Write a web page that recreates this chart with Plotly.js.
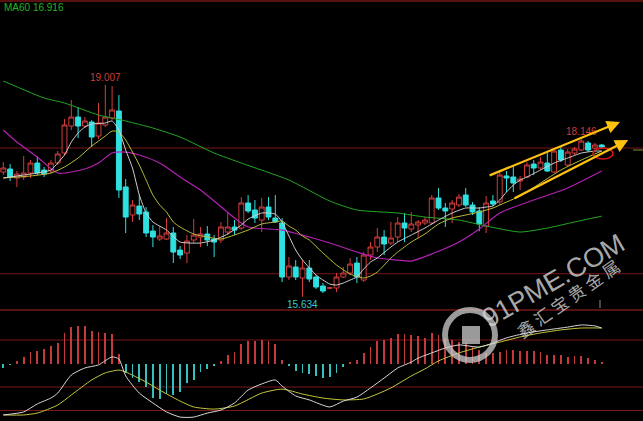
<!DOCTYPE html>
<html><head><meta charset="utf-8">
<script src="https://cdn.plot.ly/plotly-3.0.1.min.js"></script>
<style>html,body{margin:0;padding:0;background:#000;}#chart{width:643px;height:421px;}</style>
</head><body><div id="chart"></div>
<script>
// ---- candles (index 0..88) ----
const openP  = [17.618,17.666,17.523,17.539,17.602,17.761,17.650,17.634,17.761,17.920,18.350,18.493,18.350,18.414,18.191,18.366,18.477,18.589,17.380,16.934,17.077,16.982,16.679,16.552,16.552,16.648,16.377,16.329,16.536,16.584,16.632,16.552,16.536,16.664,16.743,16.727,17.125,17.014,16.854,17.061,16.886,16.807,15.948,16.107,15.932,16.091,15.948,15.804,15.770,15.773,15.948,16.011,16.170,15.900,16.298,16.425,16.584,16.489,16.584,16.807,16.711,16.775,16.807,16.807,17.205,17.045,17.030,17.093,17.252,17.093,16.998,16.759,17.157,17.141,17.555,17.539,17.475,17.539,17.745,17.682,17.761,17.618,17.968,17.730,17.920,17.968,18.080,18.000,18.048];
const highP  = [17.777,17.745,17.634,17.873,17.809,17.873,17.698,17.809,17.952,18.461,18.764,18.652,18.493,18.445,18.716,19.007,18.986,18.843,17.507,17.173,17.252,17.061,16.775,16.759,16.886,16.743,16.441,16.616,16.870,16.743,16.759,16.616,16.823,16.966,16.854,17.220,17.252,17.173,17.205,17.220,17.252,16.886,16.266,16.218,16.218,16.218,15.979,15.852,15.789,16.011,16.107,16.250,16.266,16.345,16.504,16.727,16.695,16.823,16.902,16.966,16.982,16.854,16.902,17.252,17.364,17.125,17.173,17.268,17.364,17.141,17.061,17.236,17.252,17.618,17.634,17.714,17.555,17.777,17.809,17.857,17.920,18.000,18.016,17.984,18.016,18.146,18.111,18.080,18.064];
const lowP   = [17.570,17.475,17.380,17.491,17.523,17.570,17.539,17.586,17.730,17.889,18.286,18.159,18.318,18.016,18.143,18.334,18.445,17.205,16.648,16.823,16.854,16.584,16.425,16.520,16.536,16.170,16.234,16.170,16.489,16.425,16.441,16.266,16.489,16.616,16.616,16.695,16.966,16.807,16.664,16.854,16.807,15.868,15.900,15.900,15.634,15.868,15.757,15.693,15.757,15.709,15.932,15.979,15.852,15.868,16.218,16.345,16.298,16.457,16.504,16.504,16.664,16.568,16.775,16.775,17.014,16.743,16.807,17.061,17.061,16.934,16.679,16.648,17.077,17.093,17.300,17.300,17.332,17.523,17.570,17.650,17.618,17.602,17.777,17.698,17.889,17.952,17.936,17.968,17.984];
const closeP = [17.682,17.539,17.586,17.602,17.761,17.602,17.586,17.761,17.905,18.366,18.493,18.350,18.430,18.175,18.398,18.493,18.605,17.332,16.902,17.093,16.950,16.648,16.584,16.600,16.648,16.345,16.298,16.520,16.616,16.632,16.536,16.504,16.743,16.743,16.695,17.125,16.998,16.886,17.061,16.902,16.823,15.948,16.123,15.948,16.091,15.916,15.789,15.725,15.775,15.948,16.011,16.154,15.948,16.298,16.425,16.584,16.473,16.568,16.807,16.727,16.791,16.823,16.854,17.205,17.045,16.998,17.125,17.220,17.093,16.982,16.791,17.125,17.109,17.570,17.523,17.443,17.507,17.730,17.682,17.777,17.634,17.952,17.809,17.936,17.984,18.111,17.968,18.048,18.016];

// ---- moving averages (index, price) ----
const ma5Idx = [0,3,5,7,8,9,10,11,12,13,15,16,17,18,19,20,21,22,24,26,29,31,33,35,36,38,40,41,42,43,44,46,47,48,49,50,51,52,53,54,55,57,58,60,62,64,66,68,70,71,72,73,74,75,76,77,79,81,83,85,87,88];
const ma5Val = [17.523,17.570,17.602,17.650,17.761,17.889,18.095,18.239,18.334,18.382,18.398,18.430,18.286,17.968,17.682,17.252,16.966,16.823,16.695,16.504,16.489,16.536,16.632,16.775,16.870,16.966,16.950,16.823,16.600,16.377,16.218,15.979,15.900,15.836,15.820,15.852,15.900,15.948,16.075,16.186,16.250,16.425,16.504,16.616,16.727,16.854,16.966,17.045,17.045,17.061,17.077,17.173,17.300,17.411,17.491,17.539,17.650,17.761,17.841,17.920,17.952,17.952];
const ma10Idx = [0,4,7,9,11,13,14,15,16,17,18,19,20,21,22,23,24,25,26,28,30,32,34,36,38,40,41,42,43,44,45,47,49,51,53,54,55,57,58,60,62,64,66,68,70,72,74,76,79,82,85,88];
const ma10Val = [17.523,17.555,17.602,17.698,17.841,18.032,18.111,18.191,18.270,18.255,18.127,17.936,17.730,17.491,17.252,17.093,16.982,16.823,16.743,16.632,16.584,16.552,16.616,16.695,16.791,16.823,16.839,16.759,16.695,16.600,16.536,16.330,16.139,15.995,15.932,15.964,16.027,16.250,16.345,16.504,16.632,16.791,16.886,16.934,16.982,17.045,17.141,17.236,17.443,17.650,17.809,17.952];
const ma20Idx = [0,2,5,8,12,14,16,18,20,23,26,29,31,34,36,41,45,48,52,55,58,60,63,67,70,73,78,83,88];
const ma20Val = [18.286,18.095,17.857,17.602,17.666,17.761,17.920,17.936,17.889,17.761,17.539,17.332,17.157,16.886,16.743,16.695,16.584,16.489,16.345,16.250,16.218,16.202,16.314,16.504,16.711,16.966,17.173,17.364,17.634];
const ma60Idx = [0,6,9,14,18,22,26,31,35,42,48,52,58,62,67,71,76,80,84,88];
const ma60Val = [19.066,18.796,18.716,18.525,18.430,18.318,18.175,17.920,17.761,17.491,17.157,17.014,16.966,16.902,16.854,16.759,16.664,16.727,16.823,16.916];

// ---- MACD pane ----
const macdHist = [-0.019,-0.006,0.011,0.028,0.049,0.053,0.062,0.074,0.087,0.130,0.155,0.160,0.160,0.138,0.134,0.130,0.126,0.040,-0.040,-0.062,-0.079,-0.100,-0.147,-0.151,-0.130,-0.134,-0.121,-0.083,-0.070,-0.036,-0.023,-0.009,0.011,0.036,0.049,0.083,0.096,0.096,0.100,0.096,0.083,0.015,-0.011,-0.032,-0.040,-0.043,-0.053,-0.062,-0.057,-0.040,-0.015,0.006,0.015,0.045,0.070,0.096,0.100,0.109,0.126,0.126,0.121,0.117,0.109,0.130,0.121,0.109,0.100,0.091,0.087,0.070,0.057,0.045,0.045,0.049,0.057,0.057,0.053,0.053,0.053,0.049,0.036,0.036,0.036,0.028,0.032,0.032,0.023,0.015,0.006];
const difIdx = [0,3,5,7,8,10,12,14,16,17,18,20,22,24,26,28,30,32,34,36,38,40,41,43,45,48,50,52,54,56,58,60,61,63,65,67,70,72,74,77,80,83,85,87,88];
const difVal = [-0.219,-0.206,-0.172,-0.147,-0.126,-0.049,-0.019,-0.006,0.028,0.019,-0.053,-0.126,-0.168,-0.206,-0.228,-0.228,-0.211,-0.198,-0.168,-0.113,-0.087,-0.070,-0.096,-0.138,-0.155,-0.185,-0.160,-0.143,-0.104,-0.062,-0.019,0.006,0.023,0.045,0.066,0.079,0.070,0.087,0.109,0.130,0.143,0.155,0.164,0.160,0.151];
const deaIdx = [0,3,5,8,10,13,15,17,18,21,23,26,28,31,34,38,41,44,47,50,53,55,57,60,62,64,67,70,73,76,79,82,85,88];
const deaVal = [-0.219,-0.219,-0.211,-0.177,-0.134,-0.070,-0.040,-0.028,-0.036,-0.079,-0.113,-0.160,-0.185,-0.194,-0.181,-0.126,-0.109,-0.130,-0.147,-0.155,-0.151,-0.130,-0.104,-0.053,-0.023,0.011,0.045,0.070,0.091,0.113,0.130,0.143,0.151,0.151];

// ---- labels ----
const maLabel = "MA60 16.916";
const hiLabel = "19.007", loLabel = "15.634", recentLabel = "18.146";
const wmText = "91PME.COM", wmCn = "鑫 汇 宝 贵 金 属";

const idx = openP.map((_, i) => i);
const W = 643, H = 421;
const px = x => x / W, py = y => 1 - y / H;
const RED = '#d23c3c', CYAN = '#2fe0e0', GRID = '#7a1616';

const traces = [
  {type:'candlestick', x: idx, open: openP, high: highP, low: lowP, close: closeP,
   increasing:{line:{color:RED, width:1}, fillcolor:'#000'},
   decreasing:{line:{color:CYAN, width:1}, fillcolor:CYAN},
   whiskerwidth:0, hoverinfo:'skip', xaxis:'x', yaxis:'y'},
  {type:'scatter', mode:'lines', x: ma60Idx, y: ma60Val, line:{color:'#22a822', width:1, shape:'spline', smoothing:0.6}, hoverinfo:'skip'},
  {type:'scatter', mode:'lines', x: ma20Idx, y: ma20Val, line:{color:'#b520b5', width:1.2, shape:'spline', smoothing:0.6}, hoverinfo:'skip'},
  {type:'scatter', mode:'lines', x: ma10Idx, y: ma10Val, line:{color:'#bcbc3a', width:1, shape:'spline', smoothing:0.6}, hoverinfo:'skip'},
  {type:'scatter', mode:'lines', x: ma5Idx, y: ma5Val, line:{color:'#d0d0d0', width:1, shape:'spline', smoothing:0.5}, hoverinfo:'skip'},
  {type:'bar', x: idx, y: macdHist, width:0.25, marker:{color: macdHist.map(v => v >= 0 ? '#c43a3a' : '#35c0c0')}, xaxis:'x', yaxis:'y2', hoverinfo:'skip'},
  {type:'scatter', mode:'lines', x: deaIdx, y: deaVal, line:{color:'#c8c83c', width:1, shape:'spline', smoothing:0.6}, xaxis:'x', yaxis:'y2', hoverinfo:'skip'},
  {type:'scatter', mode:'lines', x: difIdx, y: difVal, line:{color:'#d8d8d8', width:1, shape:'spline', smoothing:0.6}, xaxis:'x', yaxis:'y2', hoverinfo:'skip'}
];

const hline = (yref, y, color) => ({type:'line', xref:'paper', yref: yref, x0:0, x1:1, y0:y, y1:y, line:{color: color || GRID, width:1}, layer:'below'});
const shapes = [
  {type:'line', xref:'paper', yref:'paper', x0:0, x1:1, y0:py(1), y1:py(1), line:{color:GRID, width:1.5}},
  hline('y', 18), hline('y', 16),
  {type:'line', xref:'paper', yref:'paper', x0:0, x1:1, y0:py(310), y1:py(310), line:{color:GRID, width:1.5}},
  hline('y2', 0.1), hline('y2', -0.1), hline('y2', -0.2),
  {type:'circle', xref:'paper', yref:'paper', x0:px(593), x1:px(613), y0:py(148), y1:py(159), line:{color:'#e01414', width:1.5}},
  {type:'line', xref:'paper', yref:'paper', x0:px(633), x1:px(643), y0:py(150), y1:py(150), line:{color:'#8a8a3a', width:1}},
  {type:'line', xref:'paper', yref:'paper', x0:px(600), x1:px(600), y0:py(300), y1:py(308), line:{color:'#909090', width:1}},
  {type:'circle', xref:'paper', yref:'paper', x0:px(445), x1:px(495), y0:py(310), y1:py(360), line:{color:'rgba(205,205,205,0.75)', width:6}, layer:'above'},
  {type:'rect', xref:'paper', yref:'paper', x0:px(462), x1:px(480), y0:py(326), y1:py(344), fillcolor:'rgba(205,205,205,0.75)', line:{width:0}, layer:'above'}
];

const annotations = [
  {xref:'paper', yref:'paper', x:px(2), y:py(0), xanchor:'left', yanchor:'top', text: maLabel, showarrow:false, font:{family:'Liberation Sans, Arial', size:10, color:'#20b820'}},
  {x:15, y:19.007, xref:'x', yref:'y', yanchor:'bottom', text: hiLabel, showarrow:false, font:{family:'Liberation Sans, Arial', size:10, color:'#cc3c3c'}},
  {x:44, y:15.634, xref:'x', yref:'y', yanchor:'top', text: loLabel, showarrow:false, font:{family:'Liberation Sans, Arial', size:10, color:'#3cc8c8'}},
  {x:85, y:18.146, xref:'x', yref:'y', yanchor:'bottom', text: recentLabel, showarrow:false, font:{family:'Liberation Sans, Arial', size:10, color:'#cc3c3c'}},
  {x:90.7, y:18.414, ax:71.3, ay:17.555, xref:'x', yref:'y', axref:'x', ayref:'y', text:'', showarrow:true, arrowhead:2, arrowsize:1.2, arrowwidth:2.2, arrowcolor:'#ffc20e'},
  {x:91.9, y:18.127, ax:74.96, ay:17.189, xref:'x', yref:'y', axref:'x', ayref:'y', text:'', showarrow:true, arrowhead:2, arrowsize:1.2, arrowwidth:2.2, arrowcolor:'#ffc20e'},
  {xref:'paper', yref:'paper', x:px(553), y:py(281), xanchor:'center', yanchor:'middle', text: wmText, textangle:-30, showarrow:false, font:{family:'Liberation Sans, Arial', size:27, color:'rgba(215,215,215,0.8)'}},
  {xref:'paper', yref:'paper', x:px(567), y:py(298), xanchor:'center', yanchor:'middle', text: wmCn, textangle:-35, showarrow:false, font:{family:'Noto Sans CJK SC', size:17, color:'rgba(215,215,215,0.8)'}}
];

const layout = {
  width: W, height: H, margin:{l:0, r:0, t:0, b:0},
  paper_bgcolor:'#000', plot_bgcolor:'#000', showlegend:false, bargap:0, boxgap:0.28, boxgroupgap:0,
  xaxis:{range:[-0.485, 94.07], visible:false, showgrid:false, zeroline:false, rangeslider:{visible:false}, fixedrange:true},
  yaxis:{domain:[py(310), 1], range:[15.423, 20.355], visible:false, showgrid:false, zeroline:false, fixedrange:true},
  yaxis2:{domain:[0, py(310)], range:[-0.2447, 0.2277], visible:false, showgrid:false, zeroline:false, anchor:'x', fixedrange:true},
  shapes: shapes, annotations: annotations, hovermode:false
};
Plotly.newPlot('chart', traces, layout, {displayModeBar:false, staticPlot:true});
</script></body></html>
